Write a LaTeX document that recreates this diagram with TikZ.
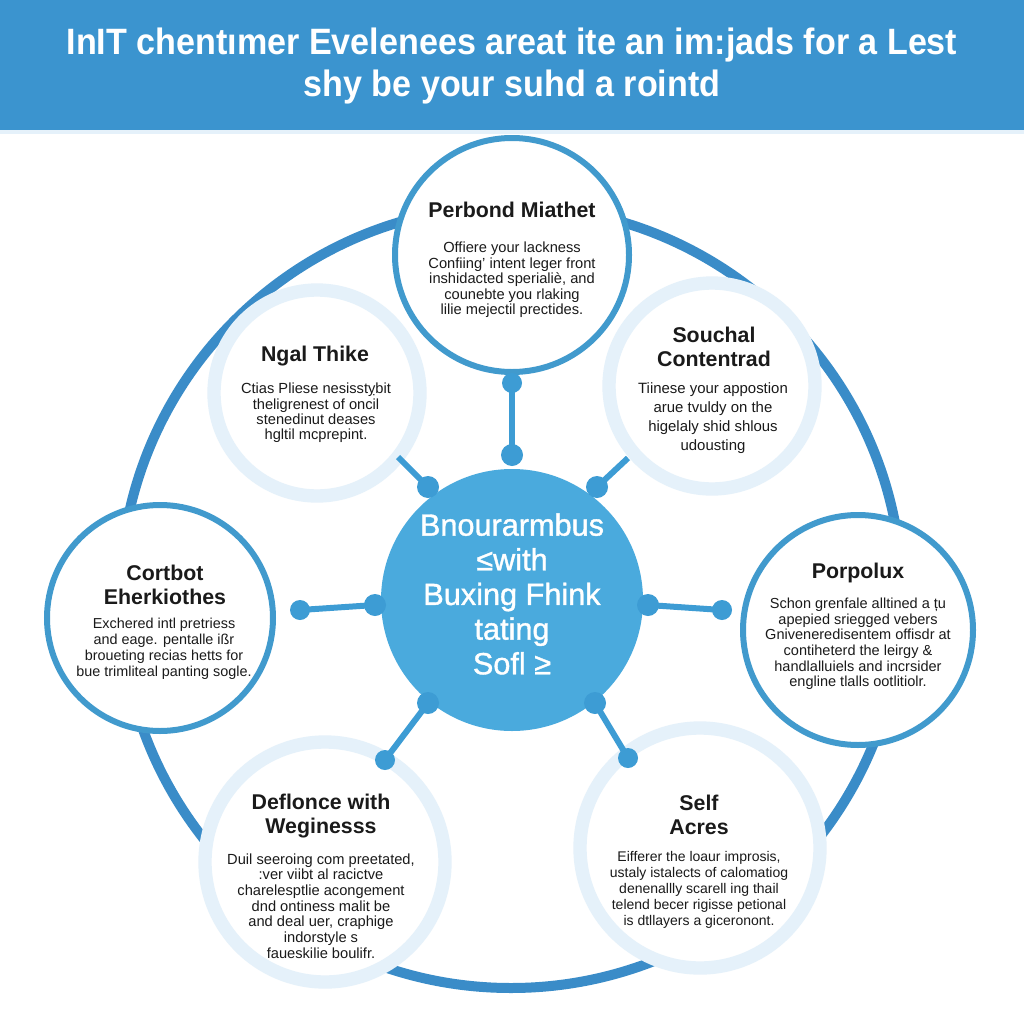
\documentclass[tikz,border=0pt]{standalone}
\usepackage{fontspec}
\setmainfont{Liberation Sans}
\definecolor{bandblue}{HTML}{3B94CF}
\definecolor{ringblue}{HTML}{3A8CC8}
\definecolor{nodeblue}{HTML}{419ACD}
\definecolor{centerblue}{HTML}{4AAADD}
\definecolor{dotblue}{HTML}{3D9CD4}
\definecolor{lightring}{HTML}{E5F1FA}
\definecolor{txt}{HTML}{1A1A1A}
\tikzset{
  bluecirc/.style={circle, draw=nodeblue, line width=4.5pt, fill=white, inner sep=0pt},
  lightcirc/.style={circle, draw=lightring, line width=10pt, fill=white, inner sep=0pt},
  hubdot/.style={circle, fill=dotblue, inner sep=0pt, minimum size=16.5pt},
  conn/.style={draw=dotblue, line width=4.5pt},
  ttl/.style={font=\fontsize{16}{18.5}\selectfont\bfseries, text=txt, align=center, inner sep=0pt},
  body/.style={text=txt, align=center, inner sep=0pt},
}
\begin{document}
\begin{tikzpicture}[x=0.75pt,y=-0.75pt]
\useasboundingbox (0,0) rectangle (1024,1024);
\fill[white] (0,0) rectangle (1024,1024);
% title band
\fill[bandblue] (0,0) rectangle (1024,130);
\fill[lightring] (0,130) rectangle (1024,134);
\node[text=white, align=center, inner sep=0pt, font=\fontsize{27.5}{32}\selectfont\bfseries] (title) at (512,66)
  {\scalebox{0.93}[1]{InIT chentımer Evelenees areat ite an im:jads for a Lest}\\\scalebox{0.93}[1]{shy be your suhd a rointd}};
% big ring
\draw[ringblue, line width=7.5pt] (511,597) circle[radius=391];
% center hub
\node[circle, fill=centerblue, minimum size=196.5pt, inner sep=0pt] (hub) at (512,600) {};
% outer circles
\node[bluecirc, minimum size=175.5pt] (c1) at (512,255) {};
\node[lightcirc, minimum size=154.5pt] (c2) at (317,393) {};
\node[lightcirc, minimum size=154.5pt] (c3) at (712,386) {};
\node[bluecirc, minimum size=169.5pt] (c4) at (160,618) {};
\node[bluecirc, minimum size=172.5pt] (c5) at (858,630) {};
\node[lightcirc, minimum size=180pt] (c6) at (325,862) {};
\node[lightcirc, minimum size=180pt] (c7) at (700,848) {};
% connectors
\coordinate (e2) at (398,457);
\coordinate (e3) at (628,458);
\node[hubdot] (d1a) at (512,455) {};
\node[hubdot, minimum size=15pt] (d1b) at (512,383) {};
\node[hubdot] (d2a) at (428,487) {};
\node[hubdot] (d3a) at (597,487) {};
\node[hubdot] (d4a) at (375,605) {};
\node[hubdot, minimum size=15pt] (d4b) at (300,610) {};
\node[hubdot] (d5a) at (648,605) {};
\node[hubdot, minimum size=15pt] (d5b) at (722,610) {};
\node[hubdot] (d6a) at (428,703) {};
\node[hubdot, minimum size=15pt] (d6b) at (385,760) {};
\node[hubdot] (d7a) at (595,703) {};
\node[hubdot, minimum size=15pt] (d7b) at (628,758) {};
\draw[conn] (d1a.center) -- (d1b.center);
\draw[conn] (d2a.center) -- (e2);
\draw[conn] (d3a.center) -- (e3);
\draw[conn] (d4a.center) -- (d4b.center);
\draw[conn] (d5a.center) -- (d5b.center);
\draw[conn] (d6a.center) -- (d6b.center);
\draw[conn] (d7a.center) -- (d7b.center);
% center text
\node[text=white, align=center, inner sep=0pt, font=\fontsize{23}{26}\selectfont\addfontfeatures{FakeBold=1.2}] (hubtxt) at (512,594)
  {Bnourarmbus\\≤with\\Buxing Fhink\\tating\\Sofl ≥};
% top node
\node[ttl] (t1) at (512,210) {Perbond Miathet};
\node[body, font=\fontsize{11}{11.6}\selectfont] (b1) at (512,280)
  {Offiere your lackness\\Confiing' intent leger front\\inshidacted sperialiè, and\\counebte you rlaking\\lilie mejectil prectides.};
% Ngal Thike
\node[ttl] (t2) at (315,356) {Ngal Thike};
\node[body, font=\fontsize{11}{11.6}\selectfont] (b2) at (316,413)
  {Ctias Pliese nesisstỵbit\\theligrenest of oncil\\stenedinut deases\\hgltil mcprepint.};
% Souchal Contentrad
\node[ttl] (t3) at (714,347) {Souchal\\Contentrad};
\node[body, font=\fontsize{11.2}{14.2}\selectfont] (b3) at (713,418)
  {Tiinese your appostion\\arue tvuldy on the\\higelaly shid shlous\\udousting};
% Cortbot
\node[ttl] (t4) at (165,585) {Cortbot\\Eherkiothes};
\node[body, font=\fontsize{10.8}{12}\selectfont] (b4) at (164,649)
  {Exchered intl pretriess\\and eage. pentalle ißr\\broueting recias hetts for\\bue trimliteal panting sogle.};
% Porpolux
\node[ttl] (t5) at (858,573) {Porpolux};
\node[body, font=\fontsize{10.9}{11.7}\selectfont] (b5) at (858,644)
  {Schon grenfale alltined a țu\\apepied sriegged vebers\\Gniveneredisentem offisdr at\\contiheterd the leirgy \&\\handlalluiels and incrsider\\engline tlalls ootlitiolr.};
% Deflonce
\node[ttl] (t6) at (321,816) {Deflonce with\\Weginesss};
\node[body, font=\fontsize{11}{11.8}\selectfont] (b6) at (321,906)
  {Duil seeroing com preetated,\\:ver viibt al racictve\\charelesptlie acongement\\dnd ontiness malit be\\and deal uer, craphige\\indorstyle s\\faueskilie boulifr.};
% Self Acres
\node[ttl] (t7) at (699,815) {Self\\Acres};
\node[body, font=\fontsize{10.5}{12}\selectfont] (b7) at (699,890)
  {Eifferer the loaur improsis,\\ustaly istalects of calomatiog\\denenallly scarell ing thail\\telend becer rigisse petional\\is dtllayers a giceronont.};
\end{tikzpicture}
\end{document}
